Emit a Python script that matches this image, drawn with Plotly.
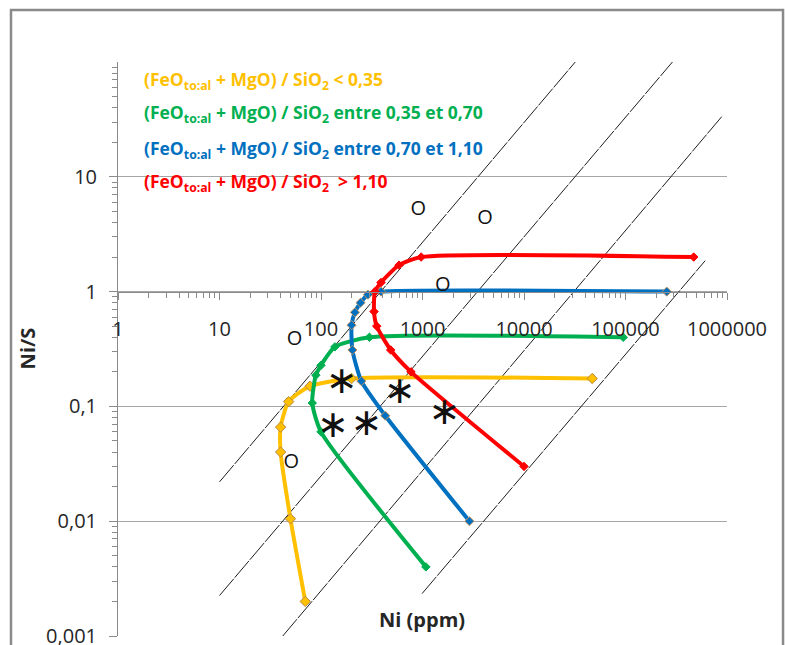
import numpy as np
import plotly.graph_objects as go

# ---------------- data ----------------
yellow_ni = [70, 50, 40, 40, 48, 78, 200, 47000]
yellow_ratio = [0.002, 0.0105, 0.04, 0.066, 0.11, 0.15, 0.175, 0.175]

green_ni = [1080, 100, 82, 89, 100, 137, 300, 95000]
green_ratio = [0.004, 0.06, 0.107, 0.187, 0.228, 0.33, 0.40, 0.40]

blue_ni = [2900, 430, 250, 204, 200, 216, 245, 290, 390, 255000]
blue_ratio = [0.01, 0.083, 0.166, 0.31, 0.51, 0.66, 0.80, 0.94, 1.0, 1.0]

red_ni = [10000, 770, 486, 354, 333, 340, 390, 587, 970, 470000]
red_ratio = [0.03, 0.2, 0.31, 0.5, 0.67, 1.0, 1.2, 1.7, 2.0, 2.0]

iso_ni = [[10, 32000], [10, 290000], [42, 890000], [990, 610000]]
iso_ratio = [[0.022, 100], [0.00225, 100], [0.001, 33.5], [0.00234, 1.86]]

o_ni = [910, 4130, 1580, 55, 51]
o_ratio = [5.1, 4.3, 1.12, 0.377, 0.032]
star_ni = [161, 132, 282, 600, 1650]
star_ratio = [0.158, 0.065, 0.068, 0.129, 0.085]

x_tickvals = [1, 10, 100, 1000, 10000, 100000, 1000000]
x_ticktext = ["1", "10", "100", "1000", "10000", "100000", "1000000"]
y_tickvals = [0.001, 0.01, 0.1, 1, 10]
y_ticktext = ["0,001", "0,01", "0,1", "1", "10"]

legend_texts = [
    "(FeO<sub>to:al</sub> + MgO) / SiO<sub>2</sub> &lt; 0,35",
    "(FeO<sub>to:al</sub> + MgO) / SiO<sub>2</sub> entre 0,35 et 0,70",
    "(FeO<sub>to:al</sub> + MgO) / SiO<sub>2</sub> entre 0,70 et 1,10",
    "(FeO<sub>to:al</sub> + MgO) / SiO<sub>2</sub>&nbsp; &gt; 1,10",
]
colors = ["#FFC000", "#00B050", "#0070C0", "#FF0000"]

FONT = "Open Sans"
fig = go.Figure()

# iso lines
for xs, ys in zip(iso_ni, iso_ratio):
    fig.add_trace(go.Scatter(x=xs, y=ys, mode="lines",
                             line=dict(color="#1e1e1e", width=1, dash="22px,1.5px"),
                             hoverinfo="skip"))

series = [
    (yellow_ni, yellow_ratio, colors[0], "#B8894A", 8),
    (green_ni, green_ratio, colors[1], colors[1], 6.5),
    (blue_ni, blue_ratio, colors[2], "#C09060", 7),
    (red_ni, red_ratio, colors[3], colors[3], 6.5),
]
for xs, ys, c, lc, ms in series:
    fig.add_trace(go.Scatter(x=xs, y=ys, mode="lines+markers",
                             line=dict(color=c, width=4, shape="spline", smoothing=0.6),
                             marker=dict(symbol="diamond", size=ms, color=c,
                                         line=dict(color=lc, width=1))))

fig.add_trace(go.Scatter(x=o_ni, y=o_ratio, mode="text", text=["O"] * len(o_ni),
                         textfont=dict(family=FONT, size=20, color="#111"),
                         textposition="middle center"))
fig.add_trace(go.Scatter(x=star_ni, y=star_ratio, mode="text", text=["\u2217"] * len(star_ni),
                         textfont=dict(family="DejaVu Sans", size=38, color="#111"),
                         textposition="middle center"))

minor_x = [m * 10 ** k for k in range(0, 6) for m in range(2, 10)]
minor_y = [m * 10.0 ** k for k in range(-3, 2) for m in range(2, 10)]

fig.update_xaxes(type="log", range=[0, 6], anchor="free", position=0.6,
                 automargin=False,
                 showline=True, linecolor="#8a8a8a", linewidth=1,
                 tickmode="array", tickvals=x_tickvals, ticktext=x_ticktext,
                 ticks="outside", ticklen=7, tickcolor="#8a8a8a",
                 ticklabelstandoff=12, ticklabeloverflow="allow",
                 minor=dict(tickmode="array", tickvals=minor_x, ticks="outside",
                            ticklen=5, tickcolor="#8a8a8a", showgrid=False),
                 showgrid=False, zeroline=False,
                 tickfont=dict(family=FONT, size=20, color="#262626"))
fig.update_yaxes(type="log", range=[-3, 2], domain=[0, 1],
                 automargin=False,
                 showline=True, linecolor="#8a8a8a", linewidth=1,
                 tickmode="array", tickvals=y_tickvals, ticktext=y_ticktext,
                 ticks="outside", ticklen=8, tickcolor="#8a8a8a",
                 ticklabelstandoff=8, ticklabeloverflow="allow",
                 minor=dict(tickmode="array", tickvals=minor_y, ticks="outside",
                            ticklen=5, tickcolor="#8a8a8a", showgrid=False),
                 showgrid=True, gridcolor="#a6a6a6", gridwidth=1, zeroline=False,
                 tickfont=dict(family=FONT, size=20, color="#262626"))

# legend-like colored labels
leg_y = [0.9686, 0.9111, 0.8467, 0.7892]
for t, c, yy in zip(legend_texts, colors, leg_y):
    fig.add_annotation(text=t, x=0.0394, y=yy, xref="paper", yref="paper",
                       xanchor="left", yanchor="middle", showarrow=False,
                       font=dict(family=FONT, size=17.5, color=c, weight="bold"))

fig.add_annotation(text="Ni (ppm)", x=0.499, y=0.0279, xref="paper", yref="paper",
                   xanchor="center", yanchor="middle", showarrow=False,
                   font=dict(family=FONT, size=20, color="#262626", weight="bold"))
fig.add_annotation(text="Ni/S", x=-0.1495, y=0.501, xref="paper", yref="paper",
                   xanchor="center", yanchor="middle", showarrow=False, textangle=-90,
                   font=dict(family=FONT, size=20, color="#262626", weight="bold"))

# chart area border
fig.add_shape(type="rect", xref="paper", yref="paper",
              x0=-0.1757, x1=1.0920, y0=-0.06, y1=1.0906,
              line=dict(color="#8a8a8a", width=2.5))

fig.update_layout(width=785, height=645, margin=dict(l=118, r=58, t=62, b=9, autoexpand=False),
                  paper_bgcolor="white", plot_bgcolor="white", showlegend=False,
                  font=dict(family=FONT))

fig.write_html("out.html")
